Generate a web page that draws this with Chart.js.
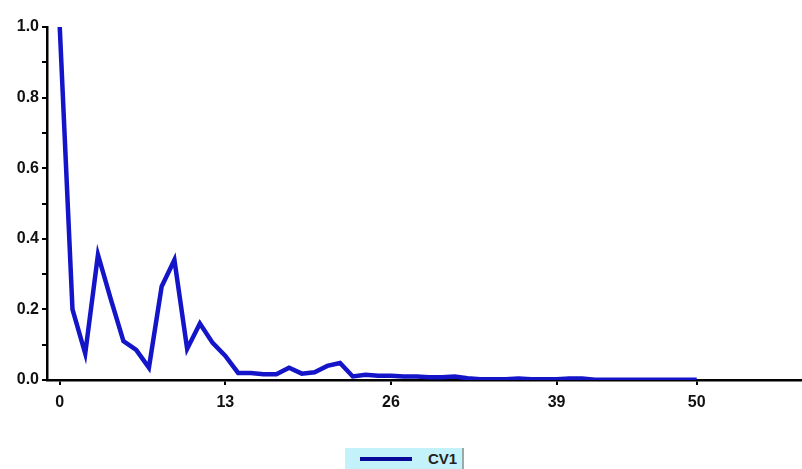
<!DOCTYPE html>
<html>
<head>
<meta charset="utf-8">
<script src="https://cdn.jsdelivr.net/npm/chart.js@4/dist/chart.umd.min.js"></script>
<style>
    body { margin: 0; background: #fff; }
    #wrap { position: relative; width: 802px; height: 440px; }
    #legenda {
        position: absolute; left: 345px; top: 448px; width: 119px; height: 21px;
        background: #c4f2fa; border-right: 2px solid #9aa; box-sizing: border-box;
        font: bold 15px "Liberation Sans Narrow", "Liberation Sans", Arial, sans-serif; color: #222;
    }
    #legenda .linha { position: absolute; left: 15px; top: 9px; width: 52px; height: 4px; background: #0a0a9a; }
    #legenda .txt { position: absolute; left: 83px; top: 2px; }
</style>
</head>
<body>
<div id="wrap"><canvas id="grafico"></canvas></div>
<div id="legenda"><span class="linha"></span><span class="txt">CV1</span></div>
<script>
// valores
const LAGS = [];
for (let i = 0; i <= 50; i++) LAGS.push(i);

const CV1 = [
    1.0, 0.2, 0.075, 0.355, 0.23, 0.11, 0.085, 0.035, 0.265, 0.34,
    0.088, 0.16, 0.105, 0.068, 0.02, 0.02, 0.016, 0.016, 0.035, 0.018,
    0.022, 0.04, 0.048, 0.01, 0.015, 0.012, 0.012, 0.01, 0.01, 0.008,
    0.008, 0.01, 0.005, 0.002, 0.002, 0.002, 0.004, 0.002, 0.002, 0.002,
    0.004, 0.004, 0.001, 0.001, 0.001, 0.001, 0.001, 0.001, 0.001, 0.001,
    0.001
];

const X_TICKS = [0, 13, 26, 39, 50];
const Y_LABELS = ['0.0', '0.2', '0.4', '0.6', '0.8', '1.0'];

const FONTE = { family: '"Liberation Sans Narrow", "Liberation Sans", Arial, sans-serif', size: 16, weight: 'bold' };

const pontos = LAGS.map(function(x, i) { return { x: x, y: CV1[i] }; });

new Chart(document.getElementById("grafico"), {
    type: 'line',
    data: {
        datasets: [{
            label: 'CV1',
            data: pontos,
            borderColor: '#1414c8',
            borderWidth: 4.5,
            pointRadius: 0,
            tension: 0,
            fill: false
        }]
    },
    options: {
        responsive: true,
        maintainAspectRatio: false,
        animation: false,
        layout: { padding: { top: 27, right: 0, left: 0, bottom: 0 } },
        plugins: { legend: { display: false }, tooltip: { enabled: false } },
        scales: {
            x: {
                type: 'linear',
                min: -1,
                max: 58.26,
                afterBuildTicks: function(scale) {
                    scale.ticks = X_TICKS.map(function(v) { return { value: v }; });
                },
                afterFit: function(scale) { scale.height = 60; },
                border: { color: '#000', width: 2.5 },
                grid: { drawOnChartArea: false, color: '#000', lineWidth: 2, tickLength: 5 },
                ticks: { color: '#111', font: FONTE, padding: 8, maxRotation: 0, autoSkip: false }
            },
            y: {
                min: 0,
                max: 1.0,
                afterFit: function(scale) { scale.width = 47; },
                border: { color: '#000', width: 2.5 },
                grid: { drawOnChartArea: false, color: '#000', lineWidth: 2, tickLength: 5 },
                ticks: {
                    stepSize: 0.1,
                    color: '#111',
                    font: FONTE,
                    padding: 3,
                    callback: function(v) {
                        var k = Math.round(v * 10);
                        return k % 2 === 0 ? Y_LABELS[k / 2] : '';
                    }
                }
            }
        }
    }
});
</script>
</body>
</html>
